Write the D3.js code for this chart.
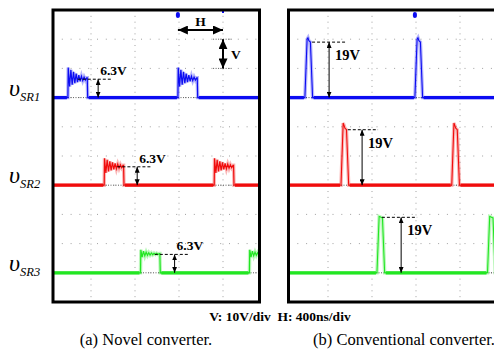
<!DOCTYPE html>
<html>
<head>
<meta charset="utf-8">
<script src="https://cdn.jsdelivr.net/npm/d3@7"></script>
<style>
body { margin: 0; background: #fff; }
svg { display: block; font-family: "Liberation Serif", "Times New Roman", serif; }
</style>
</head>
<body>
<svg id="chart" width="494" height="349"></svg>
<script>
// channels
const channelNames = ["SR1", "SR2", "SR3"];
const channelColors = ["#0c0cf2", "#f00c0c", "#22e622"];
const channelBaseDiv = [3, 6, 9];
const gridTimeNs = [400, 800, 1200, 1600, 2000];
const gridDivs = [1, 2, 3, 4, 5, 6, 7, 8, 9];

// (a) novel converter: rise times, ringing samples (V)
const novelRiseNs = [[190, 1190], [520, 1520], [850, 1840]];
const novelWidthNs = 180;
const novelRingStepNs = 12;
const novelRingV = [
    [10.3, 3.8, 9.5, 4.4, 8.8, 4.9, 8.2, 5.3, 7.7, 5.6, 7.3, 5.8, 7.0, 6.0, 6.8],
    [9.2, 4.2, 8.7, 4.7, 8.2, 5.1, 7.8, 5.4, 7.5, 5.6, 7.2, 5.8, 7.0, 6.0, 6.8],
    [7.9, 5.4, 7.4, 5.8, 7.1, 6.0, 6.9, 6.1, 6.8, 6.2, 6.7, 6.3, 6.7, 6.3, 6.6]
];

// (b) conventional converter: rise times and pulse shape
const convRiseNs = [[190, 1190], [518, 1525], [845, 1850]];
const convShapeNs = [0, 20, 28, 36, 50, 70];
const convShapeV = [
    [0, 20.0, 20.5, 19.5, 19.0, 0],
    [0, 21.3, 20.5, 19.5, 19.0, 0],
    [0, 19.3, 19.2, 19.0, 18.8, 0]
];

// annotations
const annotV = [6.3, 19];
const annotLabels = ["6.3V", "19V"];
const novelArrowNs = [465, 820, 1160];
const novelDashNs = [[280, 590], [640, 955], [980, 1285]];
const convArrowNs = [410, 710, 1065];
const convDashNs = [[255, 555], [580, 855], [890, 1210]];
const triggerNs = 1190;
const scaleText = "V: 10V/div  H: 400ns/div";
const captions = ["(a) Novel converter.", "(b) Conventional converter."];

const svg = d3.select('#chart');
const defs = svg.append('defs');

function addMarker(id, w, h) {
    defs.append('marker')
        .attr('id', id)
        .attr('viewBox', `0 0 ${w} ${h}`)
        .attr('refX', w)
        .attr('refY', h / 2)
        .attr('markerUnits', 'userSpaceOnUse')
        .attr('markerWidth', w)
        .attr('markerHeight', h)
        .attr('orient', 'auto-start-reverse')
        .append('path')
        .attr('d', `M0,0 L${w},${h / 2} L0,${h} z`)
        .attr('fill', '#000');
}
addMarker('arrSmall', 6, 5);
addMarker('arrBig', 10, 9);

const yDiv = d3.scaleLinear().domain([0, 10]).range([10, 302]);
const yVolt = (c, v) => yDiv(channelBaseDiv[c] - v / 10);

const panels = [
    { x0: 47, left: 53, right: 259.5, rise: novelRiseNs, width: novelWidthNs, arrow: novelArrowNs, dash: novelDashNs, vi: 0 },
    { x0: 284, left: 288.5, right: 500, rise: convRiseNs, width: convShapeNs[convShapeNs.length - 1], arrow: convArrowNs, dash: convDashNs, vi: 1 }
];

function novelPoints(c) {
    const pts = [[-200, 0]];
    novelRiseNs[c].forEach(r => {
        pts.push([r, 0]);
        novelRingV[c].forEach((v, i) => pts.push([r + 3 + i * novelRingStepNs, v]));
        pts.push([r + novelWidthNs - 4, novelRingV[c][novelRingV[c].length - 1]]);
        pts.push([r + novelWidthNs, 0]);
    });
    pts.push([2300, 0]);
    return pts;
}

function convPoints(c) {
    const pts = [[-200, 0]];
    convRiseNs[c].forEach(r => {
        convShapeNs.forEach((t, i) => pts.push([r + t, convShapeV[c][i]]));
    });
    pts.push([2300, 0]);
    return pts;
}

// ground segments between pulses (thick noisy band)
function groundSegments(rises, width) {
    const segs = [];
    let start = -200;
    rises.forEach(r => { segs.push([start, r]); start = r + width; });
    segs.push([start, 2300]);
    return segs;
}

panels.forEach((p, pi) => {
    const x = d3.scaleLinear().domain([0, 2000]).range([p.x0, p.x0 + 220]);
    const g = svg.append('g');

    defs.append('clipPath').attr('id', 'clip' + pi)
        .append('rect')
        .attr('x', p.left).attr('y', 10)
        .attr('width', p.right - p.left).attr('height', 292);

    const inner = g.append('g').attr('clip-path', `url(#clip${pi})`);

    // grid
    inner.selectAll('line.vg').data(gridTimeNs).enter().append('line')
        .attr('x1', d => x(d)).attr('x2', d => x(d))
        .attr('y1', 10).attr('y2', 302)
        .attr('stroke', '#a0a0a0').attr('stroke-width', 1)
        .attr('stroke-dasharray', '1,4.84');
    inner.selectAll('line.hg').data(gridDivs).enter().append('line')
        .attr('x1', p.left).attr('x2', p.right)
        .attr('y1', d => yDiv(d)).attr('y2', d => yDiv(d))
        .attr('stroke', '#a0a0a0').attr('stroke-width', 1)
        .attr('stroke-dasharray', '1,7.8');

    // ground reference
    inner.selectAll('line.gnd').data(channelBaseDiv).enter().append('line')
        .attr('x1', p.left).attr('x2', p.right)
        .attr('y1', d => yDiv(d)).attr('y2', d => yDiv(d))
        .attr('stroke', '#333').attr('stroke-width', 0.8)
        .attr('stroke-dasharray', '1,1.5');

    const line = c => d3.line().x(d => x(d[0])).y(d => yVolt(c, d[1]));

    channelNames.forEach((name, c) => {
        const pts = pi === 0 ? novelPoints(c) : convPoints(c);
        inner.append('path')
            .attr('d', line(c)(pts))
            .attr('fill', 'none')
            .attr('stroke', channelColors[c])
            .attr('stroke-opacity', 0.3)
            .attr('stroke-width', 3.5);
        inner.append('path')
            .attr('d', line(c)(pts))
            .attr('fill', 'none')
            .attr('stroke', channelColors[c])
            .attr('stroke-width', pi === 0 ? 1.2 : 1.1);

        inner.selectAll(null).data(groundSegments(p.rise[c], p.width)).enter().append('line')
            .attr('x1', d => x(d[0]) + 1).attr('x2', d => x(d[1]) - 1)
            .attr('y1', yVolt(c, 0)).attr('y2', yVolt(c, 0))
            .attr('stroke', channelColors[c])
            .attr('stroke-width', 3.2);

        // amplitude annotation
        const v = annotV[p.vi];
        const yTop = yVolt(c, v);
        const yBase = yVolt(c, 0);
        inner.append('line')
            .attr('x1', x(p.dash[c][0])).attr('x2', x(p.dash[c][1]))
            .attr('y1', yTop).attr('y2', yTop)
            .attr('stroke', '#000').attr('stroke-width', 1)
            .attr('stroke-dasharray', '3,2');
        inner.append('line')
            .attr('x1', x(p.arrow[c])).attr('x2', x(p.arrow[c]))
            .attr('y1', yTop).attr('y2', yBase)
            .attr('stroke', '#000').attr('stroke-width', 1)
            .attr('marker-start', 'url(#arrSmall)')
            .attr('marker-end', 'url(#arrSmall)');
        inner.append('text')
            .attr('x', x(p.arrow[c]) + (pi === 0 ? 2 : 6))
            .attr('y', pi === 0 ? yTop - 4 : yTop + 18)
            .attr('font-size', pi === 0 ? 13.5 : 14.5)
            .attr('font-weight', 'bold')
            .text(annotLabels[p.vi]);
    });

    // trigger marker
    inner.append('rect')
        .attr('x', x(triggerNs) - 2).attr('y', 12)
        .attr('width', 4).attr('height', 6).attr('rx', 2)
        .attr('fill', channelColors[0]);

    if (pi === 0) {
        // H / V scale marker
        const hy = 30;
        inner.append('line')
            .attr('x1', x(triggerNs)).attr('x2', x(1600))
            .attr('y1', hy).attr('y2', hy)
            .attr('stroke', '#000').attr('stroke-width', 2)
            .attr('marker-start', 'url(#arrBig)')
            .attr('marker-end', 'url(#arrBig)');
        inner.append('text')
            .attr('x', x((triggerNs + 1600) / 2)).attr('y', 26)
            .attr('text-anchor', 'middle')
            .attr('font-size', 13.5).attr('font-weight', 'bold')
            .text('H');
        [1, 2].forEach(d => {
            inner.append('line')
                .attr('x1', x(1510)).attr('x2', x(1690))
                .attr('y1', yDiv(d)).attr('y2', yDiv(d))
                .attr('stroke', '#555').attr('stroke-width', 1)
                .attr('stroke-dasharray', '1,1.5');
        });
        inner.append('line')
            .attr('x1', x(1600)).attr('x2', x(1600))
            .attr('y1', yDiv(1)).attr('y2', yDiv(2))
            .attr('stroke', '#000').attr('stroke-width', 2)
            .attr('marker-start', 'url(#arrBig)')
            .attr('marker-end', 'url(#arrBig)');
        inner.append('text')
            .attr('x', x(1600) + 8).attr('y', 59)
            .attr('font-size', 13.5).attr('font-weight', 'bold')
            .text('V');
        inner.append('rect')
            .attr('x', x(1600) - 1).attr('y', 11)
            .attr('width', 2).attr('height', 2)
            .attr('fill', channelColors[0]);
    }

    // frame
    g.append('rect')
        .attr('x', p.left).attr('y', 10)
        .attr('width', p.right - p.left).attr('height', 292)
        .attr('fill', 'none')
        .attr('stroke', '#000').attr('stroke-width', 3);
});

// channel labels
channelNames.forEach((name, c) => {
    const t = svg.append('text')
        .attr('x', 9)
        .attr('y', yDiv(channelBaseDiv[c]) - 2)
        .attr('font-style', 'italic')
        .attr('font-size', 24);
    t.append('tspan').text('υ');
    t.append('tspan').attr('font-size', 12.5).attr('dy', 5).text(name);
});

svg.append('text')
    .attr('x', 280).attr('y', 321)
    .attr('text-anchor', 'middle')
    .attr('font-size', 13.5).attr('font-weight', 'bold')
    .attr('xml:space', 'preserve')
    .text(scaleText);

svg.append('text')
    .attr('x', 146).attr('y', 345)
    .attr('text-anchor', 'middle')
    .attr('font-size', 16.5)
    .text(captions[0]);
svg.append('text')
    .attr('x', 404).attr('y', 345)
    .attr('text-anchor', 'middle')
    .attr('font-size', 16.5)
    .text(captions[1]);
</script>
</body>
</html>
